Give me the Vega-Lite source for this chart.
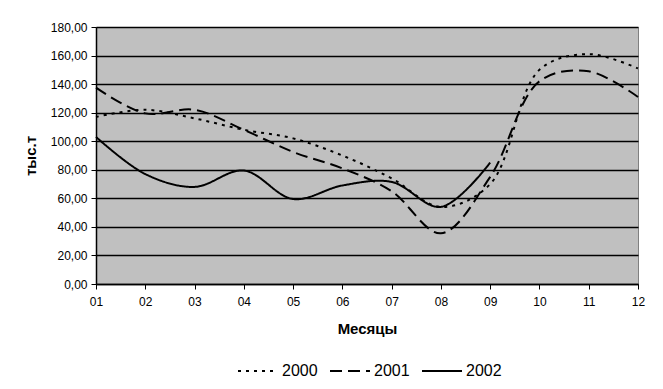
{
  "$schema": "https://vega.github.io/schema/vega-lite/v6.json",
  "autosize": "none",
  "width": 542,
  "height": 257,
  "padding": {"left": 96, "top": 27, "right": 25, "bottom": 105},
  "background": "white",
  "config": {
    "font": "Liberation Sans",
    "view": {"fill": "#C0C0C0", "stroke": "#808080", "strokeWidth": 1},
    "axis": {"labelColor": "black", "titleColor": "black", "domainColor": "black", "tickColor": "black", "labelFontSize": 12, "titleFontSize": 14, "titleFontWeight": "bold", "labelFont": "Liberation Sans", "titleFont": "Liberation Sans"}
  },
  "data": {"values": [
    {"m": "01", "year": "2000", "v": 117},
    {"m": "02", "year": "2000", "v": 122},
    {"m": "03", "year": "2000", "v": 116},
    {"m": "04", "year": "2000", "v": 108},
    {"m": "05", "year": "2000", "v": 102},
    {"m": "06", "year": "2000", "v": 90},
    {"m": "07", "year": "2000", "v": 74},
    {"m": "08", "year": "2000", "v": 54},
    {"m": "09", "year": "2000", "v": 70},
    {"m": "10", "year": "2000", "v": 150},
    {"m": "11", "year": "2000", "v": 161},
    {"m": "12", "year": "2000", "v": 151},
    {"m": "01", "year": "2001", "v": 137.5},
    {"m": "02", "year": "2001", "v": 119.5},
    {"m": "03", "year": "2001", "v": 122},
    {"m": "04", "year": "2001", "v": 108},
    {"m": "05", "year": "2001", "v": 92.5},
    {"m": "06", "year": "2001", "v": 81},
    {"m": "07", "year": "2001", "v": 65},
    {"m": "08", "year": "2001", "v": 35.5},
    {"m": "09", "year": "2001", "v": 75},
    {"m": "10", "year": "2001", "v": 142},
    {"m": "11", "year": "2001", "v": 149},
    {"m": "12", "year": "2001", "v": 131},
    {"m": "01", "year": "2002", "v": 103},
    {"m": "02", "year": "2002", "v": 77},
    {"m": "03", "year": "2002", "v": 68},
    {"m": "04", "year": "2002", "v": 79.5},
    {"m": "05", "year": "2002", "v": 59.5},
    {"m": "06", "year": "2002", "v": 69},
    {"m": "07", "year": "2002", "v": 71.5},
    {"m": "08", "year": "2002", "v": 54},
    {"m": "09", "year": "2002", "v": 85}
  ]},
  "mark": {"type": "line", "interpolate": "catmull-rom", "color": "black", "strokeWidth": 2},
  "encoding": {
    "x": {
      "field": "m", "type": "ordinal",
      "scale": {"type": "point", "padding": 0},
      "axis": {"title": "Месяцы", "labelAngle": 0, "tickSize": 5, "labelPadding": 7, "titlePadding": 14, "titleFontSize": 15, "grid": false, "domainWidth": 1.5}
    },
    "y": {
      "field": "v", "type": "quantitative",
      "scale": {"domain": [0, 180], "nice": false},
      "axis": {"title": "тыс.т", "values": [0, 20, 40, 60, 80, 100, 120, 140, 160, 180], "labelExpr": "replace(format(datum.value, '.2f'), '.', ',')", "tickSize": 5, "labelPadding": 4, "titlePadding": 12, "titleFontSize": 15, "grid": true, "gridColor": "black", "gridWidth": 1.3, "gridOpacity": 1, "domainWidth": 1.5}
    },
    "strokeDash": {
      "field": "year", "type": "nominal",
      "scale": {"domain": ["2000", "2001", "2002"], "range": [[3, 5], [12, 6], [1, 0]]},
      "legend": {"title": null, "orient": "none", "direction": "horizontal", "legendX": 141, "legendY": 323, "symbolType": "stroke", "symbolSize": 1600, "symbolStrokeColor": "black", "symbolStrokeWidth": 2, "labelFontSize": 16, "labelColor": "black", "labelOffset": 3, "columnPadding": 8, "labelFont": "Liberation Sans"}
    }
  }
}
